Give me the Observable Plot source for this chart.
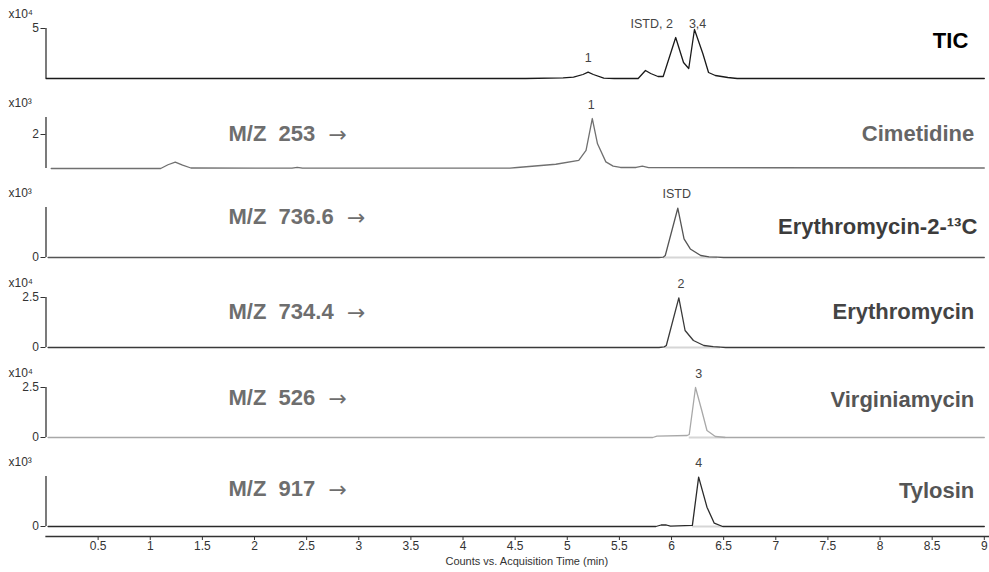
<!DOCTYPE html>
<html>
<head>
<meta charset="utf-8">
<script src="https://cdn.jsdelivr.net/npm/d3@7"></script>
<script src="https://cdn.jsdelivr.net/npm/@observablehq/plot@0.6"></script>
<style>
  html, body { margin: 0; padding: 0; background: #fff; }
  #chart { position: relative; width: 989px; height: 572px; overflow: hidden; font-family: "Liberation Sans", Arial, sans-serif; }
  #chart svg { position: absolute; left: 0; overflow: visible; }
  #chart text { white-space: pre; }
</style>
</head>
<body>
<div id="chart"></div>
<script>
// ---------- data ----------
const xTicks = [0.5, 1, 1.5, 2, 2.5, 3, 3.5, 4, 4.5, 5, 5.5, 6, 6.5, 7, 7.5, 8, 8.5, 9];

// TIC, counts x10^4
const ticTime  = [0, 4.6, 4.96, 5.06, 5.15, 5.20, 5.25, 5.35, 5.45, 5.68, 5.75, 5.80, 5.87, 5.92, 6.04, 6.115, 6.165, 6.22, 6.30, 6.355, 6.42, 6.54, 6.63, 9];
const ticValue = [0, 0, 0.07, 0.13, 0.4, 0.63, 0.4, 0.03, 0, 0, 0.8, 0.5, 0.2, 0.2, 4.1, 1.6, 1.0, 4.9, 2.5, 0.6, 0.3, 0.1, 0, 0];
const ticPeakLabel = ["1", "ISTD, 2", "3,4"];
const ticPeakTime  = [5.20, 5.81, 6.25];
const ticPeakHeight = [0.63, 4.1, 4.1];

// Cimetidine, m/z 253, x10^3
const cimTime  = [0.05, 1.10, 1.17, 1.24, 1.31, 1.39, 2.36, 2.41, 2.46, 4.45, 4.52, 4.89, 5.11, 5.18, 5.24, 5.29, 5.37, 5.44, 5.51, 5.66, 5.72, 5.78, 9];
const cimValue = [0, 0, 0.22, 0.38, 0.2, 0.03, 0.02, 0.07, 0.02, 0.02, 0.06, 0.25, 0.48, 1.06, 2.94, 1.45, 0.39, 0.14, 0.06, 0.06, 0.14, 0.05, 0.03];
const cimPeakLabel = ["1"];
const cimPeakTime = [5.23];
const cimPeakHeight = [2.94];

// Erythromycin-2-13C (ISTD), m/z 736.6, x10^3
const istdTime  = [0.02, 5.88, 5.92, 5.94, 6.06, 6.12, 6.18, 6.28, 6.36, 6.44, 6.50, 9];
const istdValue = [0, 0, 0.05, 0.28, 6.9, 2.6, 1.2, 0.28, 0.1, 0.05, 0, 0];
const istdPeakLabel = ["ISTD"];
const istdPeakTime = [6.05];
const istdPeakHeight = [6.9];

// Erythromycin, m/z 734.4, x10^4
const eryTime  = [0.02, 5.88, 5.93, 5.95, 6.07, 6.13, 6.21, 6.31, 6.40, 6.47, 6.52, 9];
const eryValue = [0, 0, 0.03, 0.1, 2.48, 0.85, 0.35, 0.1, 0.04, 0.02, 0, 0];
const eryPeakLabel = ["2"];
const eryPeakTime = [6.09];
const eryPeakHeight = [2.48];

// Virginiamycin, m/z 526, x10^4
const virTime  = [0.02, 5.82, 5.86, 6.15, 6.17, 6.23, 6.29, 6.34, 6.42, 6.52, 9];
const virValue = [0, 0, 0.07, 0.1, 0.15, 2.5, 1.35, 0.35, 0.05, 0, 0];
const virPeakLabel = ["3"];
const virPeakTime = [6.26];
const virPeakHeight = [2.5];

// Tylosin, m/z 917, x10^3
const tylTime  = [0.02, 5.85, 5.90, 5.95, 5.99, 6.20, 6.26, 6.34, 6.41, 6.49, 9];
const tylValue = [0, 0, 0.15, 0.15, 0.03, 0.12, 4.93, 1.93, 0.33, 0, 0];
const tylPeakLabel = ["4"];
const tylPeakTime = [6.26];
const tylPeakHeight = [4.93];

const compoundNames = ["TIC", "Cimetidine", "Erythromycin-2-\u00b9\u00b3C", "Erythromycin", "Virginiamycin", "Tylosin"];
const mzLabels = [null, "M/Z  253  ", "M/Z  736.6  ", "M/Z  734.4  ", "M/Z  526  ", "M/Z  917  "];
const arrowLabel = "\u2192";
const exponentLabels = ["x10\u2074", "x10\u00b3", "x10\u00b3", "x10\u2074", "x10\u2074", "x10\u00b3"];
const yDomainMax = [5, 3, 7, 2.5, 2.5, 5];
const yTickValues = [[5], [2], [0], [0, 2.5], [0, 2.5], [0]];
const integrationWindows = [null, null, [5.92, 6.44], [5.94, 6.47], [6.17, 6.52], [6.20, 6.49]];
const xTitle = "Counts vs. Acquisition Time (min)";

// ---------- layout / style ----------
const W = 989, ML = 45.5, MR = 5.2, MT = 27;
const layout = [
  {top: 1,   h: 80, color: "#1a1a1a", nameColor: "#000",    nameDx: -16, nameDy: 12, mzDy: 0},
  {top: 90,  h: 81, color: "#707070", nameColor: "#666",    nameDx: -10, nameDy: 16, mzDy: 16},
  {top: 180, h: 80, color: "#555",    nameColor: "#3c3c3c", nameDx: -7,  nameDy: 19, mzDy: 9},
  {top: 270, h: 80, color: "#3a3a3a", nameColor: "#444",    nameDx: -10, nameDy: 14, mzDy: 14},
  {top: 360, h: 80, color: "#a8a8a8", nameColor: "#555",    nameDx: -10, nameDy: 12, mzDy: 10},
  {top: 449, h: 80, color: "#2a2a2a", nameColor: "#555",    nameDx: -10, nameDy: 14, mzDy: 12}
];

const series = [
  [ticTime, ticValue, ticPeakLabel, ticPeakTime, ticPeakHeight],
  [cimTime, cimValue, cimPeakLabel, cimPeakTime, cimPeakHeight],
  [istdTime, istdValue, istdPeakLabel, istdPeakTime, istdPeakHeight],
  [eryTime, eryValue, eryPeakLabel, eryPeakTime, eryPeakHeight],
  [virTime, virValue, virPeakLabel, virPeakTime, virPeakHeight],
  [tylTime, tylValue, tylPeakLabel, tylPeakTime, tylPeakHeight]
];

const container = document.getElementById("chart");
const fontFamily = '"Liberation Sans", Arial, sans-serif';
const ctx = document.createElement("canvas").getContext("2d");
ctx.font = 'bold 22px "Liberation Sans", Arial, sans-serif';
const mzX = 182.5;

series.forEach(([time, value, pl, pt, ph], i) => {
  const L = layout[i];
  const data = time.map((t, j) => ({t, v: value[j]}));
  const peaks = pl.map((label, j) => ({label, t: pt[j], v: ph[j]}));
  const win = integrationWindows[i];
  const marks = [
    Plot.axisY({ticks: yTickValues[i], tickFormat: d => String(d), tickSize: 5, tickPadding: 2, fontSize: 12, label: null}),
    Plot.ruleX([0], {y1: 0, y2: yDomainMax[i], stroke: "#333", strokeWidth: 1.3}),
  ];
  if (win) marks.push(Plot.ruleY([0], {x1: win[0], x2: win[1], stroke: "#d6d6d6", strokeWidth: 2}));
  marks.push(
    Plot.line(data, {x: "t", y: "v", stroke: L.color, strokeWidth: 1.3}),
    Plot.text(peaks, {x: "t", y: "v", text: "label", dy: -14, lineAnchor: "middle", fontSize: 12.5, fill: "#444"}),
    Plot.text([exponentLabels[i]], {text: d => d, frameAnchor: "top-left", dx: -37.5, dy: -14, textAnchor: "start", lineAnchor: "middle", fontSize: 12, fill: "#333"}),
    Plot.text([compoundNames[i]], {text: d => d, frameAnchor: "top-right", dx: L.nameDx, dy: L.nameDy, textAnchor: "end", lineAnchor: "middle", fontSize: 22, fontWeight: "bold", fill: L.nameColor})
  );
  if (mzLabels[i]) {
    const w = ctx.measureText(mzLabels[i]).width;
    marks.push(
      Plot.text([mzLabels[i]], {text: d => d, frameAnchor: "top-left", dx: mzX, dy: L.mzDy, textAnchor: "start", lineAnchor: "middle", fontSize: 22, fontWeight: "bold", fill: "#6e6e6e"}),
      Plot.text([arrowLabel], {text: d => d, frameAnchor: "top-left", dx: mzX + w + 1, dy: L.mzDy + 1, textAnchor: "start", lineAnchor: "middle", fontSize: 22, fontFamily: '"DejaVu Sans", sans-serif', fill: "#6e6e6e"})
    );
  }
  const svg = Plot.plot({
    width: W, height: L.h,
    marginLeft: ML, marginRight: MR, marginTop: MT, marginBottom: L.h - MT - (i === 1 ? 51 : 50),
    x: {domain: [0, 9], axis: null},
    y: {domain: [0, yDomainMax[i]], axis: null},
    style: {fontFamily, color: "#333", background: "transparent", overflow: "visible"},
    marks
  });
  svg.style.top = L.top + "px";
  container.appendChild(svg);
});

// x axis
const axisSvg = Plot.plot({
  width: W, height: 42,
  marginLeft: ML, marginRight: 0, marginTop: 0, marginBottom: 36,
  x: {domain: [0, 9 * (W - ML) / (W - ML - MR)]},
  style: {fontFamily, color: "#333", background: "transparent", overflow: "visible"},
  marks: [
    Plot.frame({anchor: "bottom", stroke: "#333", strokeWidth: 1.3}),
    Plot.axisX({ticks: xTicks, tickFormat: d => String(d), tickSize: 4, tickPadding: 1, fontSize: 12, label: null}),
    Plot.text([xTitle], {text: d => d, frameAnchor: "bottom", dx: 9, dy: 25, lineAnchor: "middle", fontSize: 11, fill: "#333"})
  ]
});
axisSvg.style.top = "530px";
container.appendChild(axisSvg);
</script>
</body>
</html>
